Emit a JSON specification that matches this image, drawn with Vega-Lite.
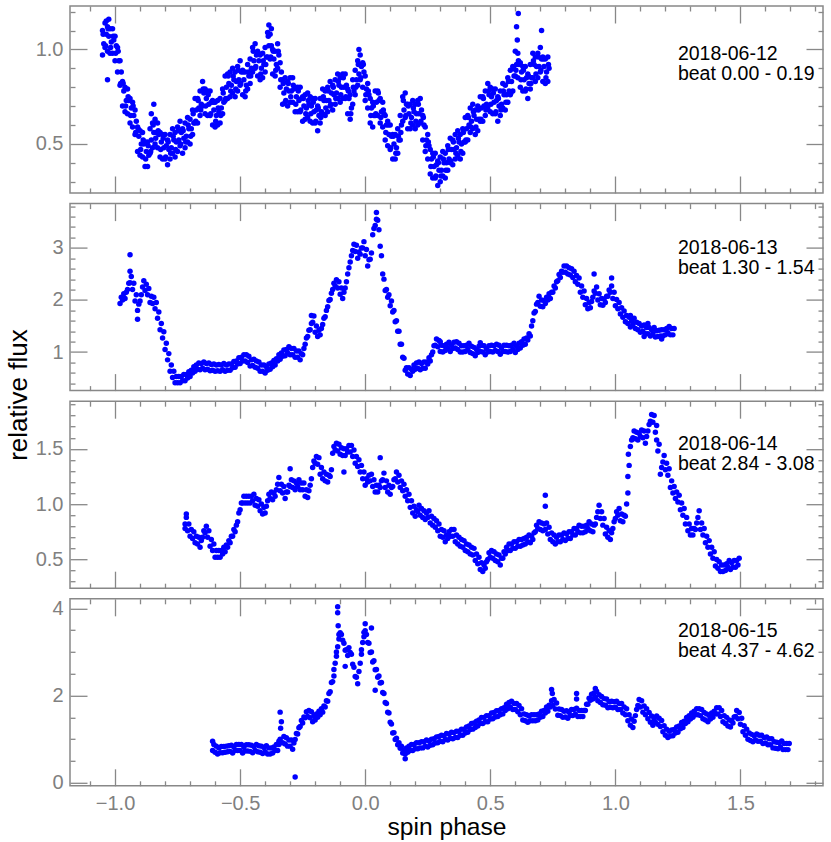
{
  "$schema": "https://vega.github.io/schema/vega-lite/v6.json",
  "padding": {"left": 4, "top": 4, "right": 6, "bottom": 2},
  "spacing": 10.6,
  "bounds": "flush",
  "config": {
    "view": {"stroke": "#888888", "strokeWidth": 1.5},
    "axis": {
      "grid": false,
      "domain": false,
      "tickColor": "#888888",
      "tickWidth": 1.3,
      "labelColor": "#808080",
      "labelFont": "Liberation Sans",
      "labelFontSize": 20,
      "labelOverlap": false,
      "labelFlush": false,
      "titleFont": "Liberation Sans",
      "titleFontSize": 26,
      "titleFontWeight": "normal",
      "titleColor": "#000000"
    },
    "text": {"font": "Liberation Sans"}
  },
  "vconcat": [
    {
      "width": 753,
      "height": 187,
      "layer": [
        {
          "data": {
            "values": "x,y\n-1.05,0.97\n-1.045,1.03\n-1.05,1.10\n-1.04,1.01\n-1.035,1.08\n-1.04,1.14\n-1.03,0.99\n-1.025,1.07\n-1.03,1.12\n-1.02,0.98\n-1.015,1.04\n-1.02,1.11\n-1.01,0.98\n-1.005,1.05\n-1.01,1.11\n-1.00,0.94\n-0.995,1.02\n-1.00,1.07\n-0.99,0.88\n-0.985,0.94\n-0.99,1.01\n-0.98,0.81\n-0.975,0.88\n-0.98,0.94\n-0.97,0.70\n-0.965,0.78\n-0.97,0.83\n-0.96,0.67\n-0.955,0.73\n-0.96,0.80\n-0.95,0.66\n-0.945,0.73\n-0.95,0.79\n-0.94,0.61\n-0.935,0.69\n-0.94,0.74\n-0.93,0.59\n-0.925,0.65\n-0.93,0.72\n-0.92,0.55\n-0.915,0.62\n-0.92,0.68\n-0.91,0.46\n-0.905,0.54\n-0.91,0.59\n-0.90,0.44\n-0.895,0.50\n-0.90,0.57\n-0.89,0.43\n-0.885,0.50\n-0.89,0.56\n-0.88,0.38\n-0.875,0.46\n-0.88,0.51\n-0.87,0.38\n-0.865,0.44\n-0.87,0.51\n-0.86,0.45\n-0.855,0.52\n-0.86,0.58\n-0.85,0.48\n-0.845,0.56\n-0.85,0.61\n-0.84,0.50\n-0.835,0.56\n-0.84,0.63\n-0.83,0.48\n-0.825,0.55\n-0.83,0.61\n-0.82,0.43\n-0.815,0.51\n-0.82,0.56\n-0.81,0.42\n-0.805,0.48\n-0.81,0.55\n-0.80,0.42\n-0.795,0.49\n-0.80,0.55\n-0.79,0.39\n-0.785,0.47\n-0.79,0.52\n-0.78,0.42\n-0.775,0.48\n-0.78,0.55\n-0.77,0.45\n-0.765,0.52\n-0.77,0.58\n-0.76,0.43\n-0.755,0.51\n-0.76,0.56\n-0.75,0.46\n-0.745,0.52\n-0.75,0.59\n-0.74,0.49\n-0.735,0.56\n-0.74,0.62\n-0.73,0.45\n-0.725,0.53\n-0.73,0.58\n-0.72,0.48\n-0.715,0.54\n-0.72,0.61\n-0.71,0.51\n-0.705,0.58\n-0.71,0.64\n-0.70,0.50\n-0.695,0.58\n-0.70,0.63\n-0.69,0.55\n-0.685,0.61\n-0.69,0.68\n-0.68,0.61\n-0.675,0.68\n-0.68,0.74\n-0.67,0.61\n-0.665,0.69\n-0.67,0.74\n-0.66,0.65\n-0.655,0.71\n-0.66,0.78\n-0.65,0.70\n-0.645,0.77\n-0.65,0.83\n-0.64,0.66\n-0.635,0.74\n-0.64,0.79\n-0.63,0.65\n-0.625,0.71\n-0.63,0.78\n-0.62,0.65\n-0.615,0.72\n-0.62,0.78\n-0.61,0.60\n-0.605,0.68\n-0.61,0.73\n-0.60,0.59\n-0.595,0.65\n-0.60,0.72\n-0.59,0.60\n-0.585,0.67\n-0.59,0.73\n-0.58,0.61\n-0.575,0.69\n-0.58,0.74\n-0.57,0.66\n-0.565,0.72\n-0.57,0.79\n-0.56,0.73\n-0.555,0.80\n-0.56,0.86\n-0.55,0.74\n-0.545,0.82\n-0.55,0.87\n-0.54,0.75\n-0.535,0.81\n-0.54,0.88\n-0.53,0.77\n-0.525,0.84\n-0.53,0.90\n-0.52,0.75\n-0.515,0.83\n-0.52,0.88\n-0.51,0.78\n-0.505,0.84\n-0.51,0.91\n-0.50,0.81\n-0.495,0.88\n-0.50,0.94\n-0.49,0.76\n-0.485,0.84\n-0.49,0.89\n-0.48,0.75\n-0.475,0.81\n-0.48,0.88\n-0.47,0.79\n-0.465,0.86\n-0.47,0.92\n-0.46,0.82\n-0.455,0.90\n-0.46,0.95\n-0.45,0.88\n-0.445,0.94\n-0.45,1.01\n-0.44,0.90\n-0.435,0.97\n-0.44,1.03\n-0.43,0.86\n-0.425,0.94\n-0.43,0.99\n-0.42,0.84\n-0.415,0.90\n-0.42,0.97\n-0.41,0.85\n-0.405,0.92\n-0.41,0.98\n-0.40,0.88\n-0.395,0.96\n-0.40,1.01\n-0.39,0.96\n-0.385,1.02\n-0.39,1.09\n-0.38,0.95\n-0.375,1.02\n-0.38,1.08\n-0.37,0.87\n-0.365,0.95\n-0.37,1.00\n-0.36,0.86\n-0.355,0.92\n-0.36,0.99\n-0.35,0.90\n-0.345,0.97\n-0.35,1.03\n-0.34,0.80\n-0.335,0.88\n-0.34,0.93\n-0.33,0.71\n-0.325,0.77\n-0.33,0.84\n-0.32,0.72\n-0.315,0.79\n-0.32,0.85\n-0.31,0.70\n-0.305,0.78\n-0.31,0.83\n-0.30,0.72\n-0.295,0.78\n-0.30,0.85\n-0.29,0.72\n-0.285,0.79\n-0.29,0.85\n-0.28,0.67\n-0.275,0.75\n-0.28,0.80\n-0.27,0.67\n-0.265,0.73\n-0.27,0.80\n-0.26,0.67\n-0.255,0.74\n-0.26,0.80\n-0.25,0.62\n-0.245,0.70\n-0.25,0.75\n-0.24,0.63\n-0.235,0.69\n-0.24,0.76\n-0.23,0.64\n-0.225,0.71\n-0.23,0.77\n-0.22,0.62\n-0.215,0.70\n-0.22,0.75\n-0.21,0.61\n-0.205,0.67\n-0.21,0.74\n-0.20,0.61\n-0.195,0.68\n-0.20,0.74\n-0.19,0.57\n-0.185,0.65\n-0.19,0.70\n-0.18,0.61\n-0.175,0.67\n-0.18,0.74\n-0.17,0.66\n-0.165,0.73\n-0.17,0.79\n-0.16,0.65\n-0.155,0.73\n-0.16,0.78\n-0.15,0.67\n-0.145,0.73\n-0.15,0.80\n-0.14,0.70\n-0.135,0.77\n-0.14,0.83\n-0.13,0.68\n-0.125,0.76\n-0.13,0.81\n-0.12,0.71\n-0.115,0.77\n-0.12,0.84\n-0.11,0.74\n-0.105,0.81\n-0.11,0.87\n-0.10,0.72\n-0.095,0.80\n-0.10,0.85\n-0.09,0.74\n-0.085,0.80\n-0.09,0.87\n-0.08,0.74\n-0.075,0.81\n-0.08,0.87\n-0.07,0.66\n-0.065,0.74\n-0.07,0.79\n-0.06,0.63\n-0.055,0.69\n-0.06,0.76\n-0.05,0.71\n-0.045,0.78\n-0.05,0.84\n-0.04,0.76\n-0.035,0.84\n-0.04,0.89\n-0.03,0.81\n-0.025,0.87\n-0.03,0.94\n-0.02,0.84\n-0.015,0.91\n-0.02,0.97\n-0.01,0.80\n-0.005,0.88\n-0.01,0.93\n0.00,0.73\n0.005,0.79\n0.00,0.86\n0.01,0.69\n0.015,0.76\n0.01,0.82\n0.02,0.61\n0.025,0.69\n0.02,0.74\n0.03,0.59\n0.035,0.65\n0.03,0.72\n0.04,0.65\n0.045,0.72\n0.04,0.78\n0.05,0.65\n0.055,0.73\n0.05,0.78\n0.06,0.61\n0.065,0.67\n0.06,0.74\n0.07,0.59\n0.075,0.66\n0.07,0.72\n0.08,0.52\n0.085,0.60\n0.08,0.65\n0.09,0.49\n0.095,0.55\n0.09,0.62\n0.10,0.47\n0.105,0.54\n0.10,0.60\n0.11,0.42\n0.115,0.50\n0.11,0.55\n0.12,0.42\n0.125,0.48\n0.12,0.55\n0.13,0.45\n0.135,0.52\n0.13,0.58\n0.14,0.52\n0.145,0.60\n0.14,0.65\n0.15,0.62\n0.155,0.68\n0.15,0.75\n0.16,0.64\n0.165,0.71\n0.16,0.77\n0.17,0.58\n0.175,0.66\n0.17,0.71\n0.18,0.58\n0.185,0.64\n0.18,0.71\n0.19,0.60\n0.195,0.67\n0.19,0.73\n0.20,0.58\n0.205,0.66\n0.20,0.71\n0.21,0.60\n0.215,0.66\n0.21,0.73\n0.22,0.61\n0.225,0.68\n0.22,0.74\n0.23,0.52\n0.235,0.60\n0.23,0.65\n0.24,0.46\n0.245,0.52\n0.24,0.59\n0.25,0.42\n0.255,0.49\n0.25,0.55\n0.26,0.34\n0.265,0.42\n0.26,0.47\n0.27,0.32\n0.275,0.38\n0.27,0.45\n0.28,0.32\n0.285,0.39\n0.28,0.45\n0.29,0.28\n0.295,0.36\n0.29,0.41\n0.30,0.30\n0.305,0.36\n0.30,0.43\n0.31,0.33\n0.315,0.40\n0.31,0.46\n0.32,0.32\n0.325,0.40\n0.32,0.45\n0.33,0.36\n0.335,0.42\n0.33,0.49\n0.34,0.40\n0.345,0.47\n0.34,0.53\n0.35,0.39\n0.355,0.47\n0.35,0.52\n0.36,0.42\n0.365,0.48\n0.36,0.55\n0.37,0.44\n0.375,0.51\n0.37,0.57\n0.38,0.42\n0.385,0.50\n0.38,0.55\n0.39,0.45\n0.395,0.51\n0.39,0.58\n0.40,0.51\n0.405,0.58\n0.40,0.64\n0.41,0.52\n0.415,0.60\n0.41,0.65\n0.42,0.56\n0.425,0.62\n0.42,0.69\n0.43,0.58\n0.435,0.65\n0.43,0.71\n0.44,0.55\n0.445,0.63\n0.44,0.68\n0.45,0.57\n0.455,0.63\n0.45,0.70\n0.46,0.62\n0.465,0.69\n0.46,0.75\n0.47,0.62\n0.475,0.70\n0.47,0.75\n0.48,0.65\n0.485,0.71\n0.48,0.78\n0.49,0.69\n0.495,0.76\n0.49,0.82\n0.50,0.67\n0.505,0.75\n0.50,0.80\n0.51,0.66\n0.515,0.72\n0.51,0.79\n0.52,0.66\n0.525,0.73\n0.52,0.79\n0.53,0.62\n0.535,0.70\n0.53,0.75\n0.54,0.65\n0.545,0.71\n0.54,0.78\n0.55,0.69\n0.555,0.76\n0.55,0.82\n0.56,0.68\n0.565,0.76\n0.56,0.81\n0.57,0.72\n0.575,0.78\n0.57,0.85\n0.58,0.76\n0.585,0.83\n0.58,0.89\n0.59,0.78\n0.595,0.86\n0.59,0.91\n0.60,0.86\n0.605,0.92\n0.60,0.99\n0.61,0.85\n0.615,0.92\n0.61,0.98\n0.62,0.80\n0.625,0.88\n0.62,0.93\n0.63,0.78\n0.635,0.84\n0.63,0.91\n0.64,0.78\n0.645,0.85\n0.64,0.91\n0.65,0.74\n0.655,0.82\n0.65,0.87\n0.66,0.79\n0.665,0.85\n0.66,0.92\n0.67,0.85\n0.675,0.92\n0.67,0.98\n0.68,0.83\n0.685,0.91\n0.68,0.96\n0.69,0.85\n0.695,0.91\n0.69,0.98\n0.70,0.88\n0.705,0.95\n0.70,1.01\n0.71,0.83\n0.715,0.91\n0.71,0.96\n0.72,0.82\n0.725,0.88\n0.72,0.95\n0.73,0.83\n0.735,0.90\n0.73,0.96\n-1.035,1.15\n-1.025,1.16\n-1.03,0.84\n-0.845,0.71\n-0.855,0.66\n-0.385,1.13\n-0.375,1.11\n-0.025,1.00\n0.605,1.12\n0.608,1.05\n0.612,1.19\n0.705,1.10\n-1.0475,1.08\n-1.0375,1.02\n-1.0275,1.11\n-1.0175,1.01\n-1.0075,1.07\n-0.9975,0.98\n-0.9875,0.99\n-0.9775,0.82\n-0.9675,0.82\n-0.9575,0.70\n-0.9475,0.75\n-0.9375,0.65\n-0.9275,0.70\n-0.9175,0.56\n-0.9075,0.58\n-0.8975,0.47\n-0.8875,0.52\n-0.8775,0.42\n-0.8675,0.49\n-0.8575,0.46\n-0.8475,0.60\n-0.8375,0.53\n-0.8275,0.57\n-0.8175,0.47\n-0.8075,0.53\n-0.7975,0.43\n-0.7875,0.51\n-0.7775,0.45\n-0.7675,0.54\n-0.7575,0.47\n-0.7475,0.57\n-0.7375,0.50\n-0.7275,0.57\n-0.7175,0.51\n-0.7075,0.60\n-0.6975,0.54\n-0.6875,0.66\n-0.6775,0.62\n-0.6675,0.73\n-0.6575,0.68\n-0.6475,0.79\n-0.6375,0.70\n-0.6275,0.76\n-0.6175,0.66\n-0.6075,0.72\n-0.5975,0.62\n-0.5875,0.69\n-0.5775,0.65\n-0.5675,0.77\n-0.5575,0.74\n-0.5475,0.86\n-0.5375,0.78\n-0.5275,0.86\n-0.5175,0.79\n-0.5075,0.89\n-0.4975,0.82\n-0.4875,0.88\n-0.4775,0.78\n-0.4675,0.88\n-0.4575,0.86\n-0.4475,0.99\n-0.4375,0.91\n-0.4275,0.98\n-0.4175,0.87\n-0.4075,0.94\n-0.3975,0.92\n-0.3875,1.07\n-0.3775,0.96\n-0.3675,0.99\n-0.3575,0.89\n-0.3475,0.99\n-0.3375,0.84\n-0.3275,0.82\n-0.3175,0.73\n-0.3075,0.82\n-0.2975,0.75\n-0.2875,0.81\n-0.2775,0.71\n-0.2675,0.78\n-0.2575,0.68\n-0.2475,0.74\n-0.2375,0.66\n-0.2275,0.73\n-0.2175,0.66\n-0.2075,0.72\n-0.1975,0.62\n-0.1875,0.69\n-0.1775,0.64\n-0.1675,0.75\n-0.1575,0.69\n-0.1475,0.78\n-0.1375,0.71\n-0.1275,0.80\n-0.1175,0.74\n-0.1075,0.83\n-0.0975,0.76\n-0.0875,0.85\n-0.0775,0.75\n-0.0675,0.78\n-0.0575,0.66\n-0.0475,0.80\n-0.0375,0.80\n-0.0275,0.92\n-0.0175,0.85\n-0.0075,0.92\n0.0025,0.76\n0.0125,0.78\n0.0225,0.65\n0.0325,0.70\n0.0425,0.66\n0.0525,0.77\n0.0625,0.64\n0.0725,0.68\n0.0825,0.56\n0.0925,0.60\n0.1025,0.48\n0.1125,0.54\n0.1225,0.45\n0.1325,0.54\n0.1425,0.56\n0.1525,0.73\n0.1625,0.65\n0.1725,0.70\n0.1825,0.61\n0.1925,0.69\n0.2025,0.62\n0.2125,0.71\n0.2225,0.62\n0.2325,0.64\n0.2425,0.49\n0.2525,0.51\n0.2625,0.38\n0.2725,0.43\n0.2825,0.33\n0.2925,0.40\n0.3025,0.33\n0.3125,0.42\n0.3225,0.36\n0.3325,0.47\n0.3425,0.41\n0.3525,0.51\n0.3625,0.45\n0.3725,0.53\n0.3825,0.46\n0.3925,0.56\n0.4025,0.52\n0.4125,0.64\n0.4225,0.59\n0.4325,0.67\n0.4425,0.59\n0.4525,0.68\n0.4625,0.63\n0.4725,0.74\n0.4825,0.68\n0.4925,0.78\n0.5025,0.71\n0.5125,0.77\n0.5225,0.67\n0.5325,0.74\n0.5425,0.68\n0.5525,0.78\n0.5625,0.72\n0.5725,0.83\n0.5825,0.77\n0.5925,0.90\n0.6025,0.89\n0.6125,0.94\n0.6225,0.84\n0.6325,0.89\n0.6425,0.79\n0.6525,0.86\n0.6625,0.82\n0.6725,0.94\n0.6825,0.87\n0.6925,0.96\n0.7025,0.89\n0.7125,0.95\n0.7225,0.85\n0.7325,0.92",
            "format": {"type": "csv", "parse": {"x": "number", "y": "number"}}
          },
          "mark": {"type": "point", "shape": "circle", "filled": true, "size": 30, "color": "#0000ff", "opacity": 1, "strokeWidth": 0},
          "encoding": {
            "x": {"field": "x", "type": "quantitative", "scale": {"domain": [-1.18, 1.83], "nice": false, "zero": false},
              "axis": {"orient": "bottom", "title": null, "labels": false, "values": [-1.1,-1,-0.9,-0.8,-0.7,-0.6,-0.5,-0.4,-0.3,-0.2,-0.1,0,0.1,0.2,0.3,0.4,0.5,0.6,0.7,0.8,0.9,1,1.1,1.2,1.3,1.4,1.5,1.6,1.7,1.8],
                "tickSize": {"condition": {"test": "abs(datum.value*2-round(datum.value*2))<0.001", "value": -17}, "value": -5}}},
            "y": {"field": "y", "type": "quantitative", "scale": {"domain": [0.24, 1.23], "nice": false, "zero": false},
              "axis": {"orient": "left", "title": null, "format": ".1f", "labelPadding": 24, "values": [0.3,0.4,0.5,0.6,0.7,0.8,0.9,1,1.1,1.2],
                "labelExpr": "abs(datum.value*2-round(datum.value*2))<0.001 ? datum.label : ''",
                "labelFontSize": {"condition": {"test": "abs(datum.value*2-round(datum.value*2))<0.001", "value": 20}, "value": 0},
                "tickSize": {"condition": {"test": "abs(datum.value*2-round(datum.value*2))<0.001", "value": -17}, "value": -5}}}
          }
        },
        {
          "data": {"values": [{"x": 1.25, "y": 0.945, "t": "2018-06-12\nbeat 0.00 - 0.19"}]},
          "mark": {"type": "text", "align": "left", "baseline": "alphabetic", "fontSize": 19.5, "lineBreak": "\n", "lineHeight": 20, "color": "#000000"},
          "encoding": {
            "x": {"field": "x", "type": "quantitative", "scale": {"domain": [-1.18, 1.83], "nice": false, "zero": false},
              "axis": {"orient": "top", "title": null, "labels": false, "values": [-1.1,-1,-0.9,-0.8,-0.7,-0.6,-0.5,-0.4,-0.3,-0.2,-0.1,0,0.1,0.2,0.3,0.4,0.5,0.6,0.7,0.8,0.9,1,1.1,1.2,1.3,1.4,1.5,1.6,1.7,1.8],
                "tickSize": {"condition": {"test": "abs(datum.value*2-round(datum.value*2))<0.001", "value": -17}, "value": -5}}},
            "y": {"field": "y", "type": "quantitative", "scale": {"domain": [0.24, 1.23], "nice": false, "zero": false},
              "axis": {"orient": "right", "title": null, "labels": false, "values": [0.3,0.4,0.5,0.6,0.7,0.8,0.9,1,1.1,1.2],
                "tickSize": {"condition": {"test": "abs(datum.value*2-round(datum.value*2))<0.001", "value": -17}, "value": -5}}},
            "text": {"field": "t", "type": "nominal"}
          }
        }
      ],
      "resolve": {"axis": {"x": "independent", "y": "independent"}}
    },
    {
      "width": 753,
      "height": 187,
      "layer": [
        {
          "data": {
            "values": "x,y\n-0.98,1.93\n-0.975,2.05\n-0.97,2.00\n-0.965,2.12\n-0.96,2.03\n-0.955,2.15\n-0.95,2.20\n-0.945,2.32\n-0.94,2.33\n-0.935,2.45\n-0.93,2.20\n-0.925,2.32\n-0.92,1.98\n-0.915,2.10\n-0.91,1.80\n-0.905,1.92\n-0.90,1.98\n-0.895,2.10\n-0.89,2.25\n-0.885,2.37\n-0.88,2.18\n-0.875,2.30\n-0.87,2.10\n-0.865,2.22\n-0.86,1.95\n-0.855,2.07\n-0.85,1.93\n-0.845,2.05\n-0.84,1.83\n-0.835,1.95\n-0.83,1.65\n-0.825,1.77\n-0.82,1.43\n-0.815,1.55\n-0.81,1.27\n-0.805,1.39\n-0.80,1.05\n-0.795,1.17\n-0.79,0.85\n-0.785,0.97\n-0.78,0.63\n-0.775,0.75\n-0.77,0.51\n-0.765,0.63\n-0.76,0.41\n-0.755,0.53\n-0.75,0.41\n-0.745,0.53\n-0.74,0.41\n-0.735,0.53\n-0.73,0.45\n-0.725,0.57\n-0.72,0.45\n-0.715,0.57\n-0.71,0.50\n-0.705,0.62\n-0.70,0.53\n-0.695,0.65\n-0.69,0.60\n-0.685,0.72\n-0.68,0.63\n-0.675,0.75\n-0.67,0.67\n-0.665,0.79\n-0.66,0.66\n-0.655,0.78\n-0.65,0.69\n-0.645,0.81\n-0.64,0.66\n-0.635,0.78\n-0.63,0.67\n-0.625,0.79\n-0.62,0.64\n-0.615,0.76\n-0.61,0.65\n-0.605,0.77\n-0.60,0.63\n-0.595,0.75\n-0.59,0.64\n-0.585,0.76\n-0.58,0.63\n-0.575,0.75\n-0.57,0.66\n-0.565,0.78\n-0.56,0.63\n-0.555,0.75\n-0.55,0.65\n-0.545,0.77\n-0.54,0.65\n-0.535,0.77\n-0.53,0.70\n-0.525,0.82\n-0.52,0.71\n-0.515,0.83\n-0.51,0.77\n-0.505,0.89\n-0.50,0.78\n-0.495,0.90\n-0.49,0.83\n-0.485,0.95\n-0.48,0.83\n-0.475,0.95\n-0.47,0.80\n-0.465,0.92\n-0.46,0.73\n-0.455,0.85\n-0.45,0.74\n-0.445,0.86\n-0.44,0.71\n-0.435,0.83\n-0.43,0.69\n-0.425,0.81\n-0.42,0.63\n-0.415,0.75\n-0.41,0.63\n-0.405,0.75\n-0.40,0.60\n-0.395,0.72\n-0.39,0.65\n-0.385,0.77\n-0.38,0.67\n-0.375,0.79\n-0.37,0.72\n-0.365,0.84\n-0.36,0.75\n-0.355,0.87\n-0.35,0.83\n-0.345,0.95\n-0.34,0.86\n-0.335,0.98\n-0.33,0.92\n-0.325,1.04\n-0.32,0.93\n-0.315,1.05\n-0.31,0.98\n-0.305,1.10\n-0.30,0.95\n-0.295,1.07\n-0.29,0.95\n-0.285,1.07\n-0.28,0.90\n-0.275,1.02\n-0.27,0.90\n-0.265,1.02\n-0.26,0.85\n-0.255,0.97\n-0.25,0.95\n-0.245,1.07\n-0.24,1.15\n-0.235,1.27\n-0.23,1.30\n-0.225,1.42\n-0.22,1.43\n-0.215,1.55\n-0.21,1.57\n-0.205,1.69\n-0.20,1.38\n-0.195,1.50\n-0.19,1.30\n-0.185,1.42\n-0.18,1.33\n-0.175,1.45\n-0.17,1.53\n-0.165,1.65\n-0.16,1.68\n-0.155,1.80\n-0.15,1.87\n-0.145,1.99\n-0.14,2.01\n-0.135,2.13\n-0.13,2.20\n-0.125,2.32\n-0.12,2.27\n-0.115,2.39\n-0.11,2.23\n-0.105,2.35\n-0.10,2.11\n-0.095,2.23\n-0.09,2.03\n-0.085,2.15\n-0.08,2.23\n-0.075,2.35\n-0.07,2.50\n-0.065,2.62\n-0.06,2.73\n-0.055,2.85\n-0.05,2.95\n-0.045,3.07\n-0.04,2.93\n-0.035,3.05\n-0.03,2.80\n-0.025,2.92\n-0.02,2.88\n-0.015,3.00\n-0.01,3.00\n-0.005,3.12\n0.00,2.85\n0.005,2.97\n0.01,2.65\n0.015,2.77\n0.02,2.78\n0.025,2.90\n0.03,3.25\n0.035,3.37\n0.04,3.43\n0.045,3.55\n0.05,3.53\n0.055,3.35\n0.06,3.03\n0.065,2.85\n0.07,2.50\n0.075,2.40\n0.08,2.18\n0.085,2.20\n0.09,2.05\n0.095,2.10\n0.10,1.89\n0.105,1.98\n0.11,1.77\n0.115,1.80\n0.12,1.58\n0.125,1.60\n0.13,1.40\n0.135,1.40\n0.14,1.15\n0.145,1.15\n0.15,0.90\n0.155,0.88\n0.16,0.65\n0.165,0.70\n0.17,0.58\n0.175,0.70\n0.18,0.55\n0.185,0.67\n0.19,0.63\n0.195,0.75\n0.20,0.67\n0.205,0.79\n0.21,0.69\n0.215,0.81\n0.22,0.66\n0.225,0.78\n0.23,0.69\n0.235,0.81\n0.24,0.69\n0.245,0.81\n0.25,0.77\n0.255,0.89\n0.26,0.83\n0.265,0.95\n0.27,1.00\n0.275,1.12\n0.28,1.13\n0.285,1.25\n0.29,1.10\n0.295,1.22\n0.30,1.01\n0.305,1.13\n0.31,1.00\n0.315,1.12\n0.32,1.03\n0.325,1.15\n0.33,1.07\n0.335,1.19\n0.34,1.01\n0.345,1.13\n0.35,1.07\n0.355,1.19\n0.36,1.08\n0.365,1.20\n0.37,1.05\n0.375,1.17\n0.38,1.00\n0.385,1.12\n0.39,1.00\n0.395,1.12\n0.40,1.01\n0.405,1.13\n0.41,1.05\n0.415,1.17\n0.42,0.99\n0.425,1.11\n0.43,0.97\n0.435,1.09\n0.44,0.93\n0.445,1.05\n0.45,0.99\n0.455,1.11\n0.46,1.01\n0.465,1.13\n0.47,1.00\n0.475,1.12\n0.48,0.95\n0.485,1.07\n0.49,1.00\n0.495,1.12\n0.50,1.01\n0.505,1.13\n0.51,1.00\n0.515,1.12\n0.52,1.03\n0.525,1.15\n0.53,1.01\n0.535,1.13\n0.54,0.96\n0.545,1.08\n0.55,1.01\n0.555,1.13\n0.56,1.01\n0.565,1.13\n0.57,1.00\n0.575,1.12\n0.58,1.01\n0.585,1.13\n0.59,1.05\n0.595,1.17\n0.60,0.99\n0.605,1.11\n0.61,1.05\n0.615,1.17\n0.62,1.08\n0.625,1.20\n0.63,1.13\n0.635,1.25\n0.64,1.15\n0.645,1.27\n0.65,1.23\n0.655,1.35\n0.66,1.31\n0.665,1.50\n0.67,1.60\n0.675,1.75\n0.68,1.78\n0.685,1.92\n0.69,1.95\n0.695,2.07\n0.70,1.88\n0.705,2.00\n0.71,1.87\n0.715,1.99\n0.72,1.93\n0.725,2.05\n0.73,2.00\n0.735,2.12\n0.74,2.03\n0.745,2.15\n0.75,2.15\n0.755,2.27\n0.76,2.23\n0.765,2.35\n0.77,2.37\n0.775,2.49\n0.78,2.43\n0.785,2.55\n0.79,2.53\n0.795,2.65\n0.80,2.53\n0.805,2.65\n0.81,2.50\n0.815,2.62\n0.82,2.48\n0.825,2.60\n0.83,2.43\n0.835,2.55\n0.84,2.35\n0.845,2.47\n0.85,2.30\n0.855,2.42\n0.86,2.15\n0.865,2.27\n0.87,2.05\n0.875,2.17\n0.88,1.91\n0.885,2.03\n0.89,1.83\n0.895,1.95\n0.90,1.85\n0.905,1.97\n0.91,2.05\n0.915,2.17\n0.92,2.13\n0.925,2.25\n0.93,2.00\n0.935,2.12\n0.94,1.91\n0.945,2.03\n0.95,1.90\n0.955,2.02\n0.96,1.95\n0.965,2.07\n0.97,2.07\n0.975,2.19\n0.98,2.15\n0.985,2.27\n0.99,2.03\n0.995,2.15\n1.00,1.89\n1.005,2.01\n1.01,1.83\n1.015,1.95\n1.02,1.73\n1.025,1.85\n1.03,1.67\n1.035,1.79\n1.04,1.58\n1.045,1.70\n1.05,1.55\n1.055,1.67\n1.06,1.48\n1.065,1.60\n1.07,1.53\n1.075,1.65\n1.08,1.45\n1.085,1.57\n1.09,1.43\n1.095,1.55\n1.10,1.38\n1.105,1.50\n1.11,1.40\n1.115,1.52\n1.12,1.35\n1.125,1.47\n1.13,1.35\n1.135,1.47\n1.14,1.31\n1.145,1.43\n1.15,1.35\n1.155,1.47\n1.16,1.29\n1.165,1.41\n1.17,1.30\n1.175,1.42\n1.18,1.31\n1.185,1.43\n1.19,1.31\n1.195,1.43\n1.20,1.33\n1.205,1.45\n1.21,1.37\n1.215,1.49\n1.22,1.33\n1.225,1.45\n1.23,1.33\n1.235,1.45\n-0.94,2.87\n-0.94,2.55\n-0.91,1.63\n-0.215,1.70\n0.045,3.68\n0.915,2.50\n0.985,2.42\n1.115,1.30\n1.185,1.25\n1.13,1.55\n1.06,1.70\n0.30,1.20\n0.46,1.18",
            "format": {"type": "csv", "parse": {"x": "number", "y": "number"}}
          },
          "mark": {"type": "point", "shape": "circle", "filled": true, "size": 30, "color": "#0000ff", "opacity": 1, "strokeWidth": 0},
          "encoding": {
            "x": {"field": "x", "type": "quantitative", "scale": {"domain": [-1.18, 1.83], "nice": false, "zero": false},
              "axis": {"orient": "bottom", "title": null, "labels": false, "values": [-1.1,-1,-0.9,-0.8,-0.7,-0.6,-0.5,-0.4,-0.3,-0.2,-0.1,0,0.1,0.2,0.3,0.4,0.5,0.6,0.7,0.8,0.9,1,1.1,1.2,1.3,1.4,1.5,1.6,1.7,1.8],
                "tickSize": {"condition": {"test": "abs(datum.value*2-round(datum.value*2))<0.001", "value": -17}, "value": -5}}},
            "y": {"field": "y", "type": "quantitative", "scale": {"domain": [0.26, 3.85], "nice": false, "zero": false},
              "axis": {"orient": "left", "title": "relative flux", "titleX": -44, "titleY": 191, "titleAngle": -90, "titleAlign": "center", "titleBaseline": "alphabetic",
                "format": ".0f", "labelPadding": 24, "values": [0.4,0.6,0.8,1,1.2,1.4,1.6,1.8,2,2.2,2.4,2.6,2.8,3,3.2,3.4,3.6,3.8],
                "labelExpr": "abs(datum.value-round(datum.value))<0.001 ? datum.label : ''",
                "labelFontSize": {"condition": {"test": "abs(datum.value-round(datum.value))<0.001", "value": 20}, "value": 0},
                "tickSize": {"condition": {"test": "abs(datum.value-round(datum.value))<0.001", "value": -17}, "value": -5}}}
          }
        },
        {
          "data": {"values": [{"x": 1.25, "y": 2.88, "t": "2018-06-13\nbeat 1.30 - 1.54"}]},
          "mark": {"type": "text", "align": "left", "baseline": "alphabetic", "fontSize": 19.5, "lineBreak": "\n", "lineHeight": 20, "color": "#000000"},
          "encoding": {
            "x": {"field": "x", "type": "quantitative", "scale": {"domain": [-1.18, 1.83], "nice": false, "zero": false},
              "axis": {"orient": "top", "title": null, "labels": false, "values": [-1.1,-1,-0.9,-0.8,-0.7,-0.6,-0.5,-0.4,-0.3,-0.2,-0.1,0,0.1,0.2,0.3,0.4,0.5,0.6,0.7,0.8,0.9,1,1.1,1.2,1.3,1.4,1.5,1.6,1.7,1.8],
                "tickSize": {"condition": {"test": "abs(datum.value*2-round(datum.value*2))<0.001", "value": -17}, "value": -5}}},
            "y": {"field": "y", "type": "quantitative", "scale": {"domain": [0.26, 3.85], "nice": false, "zero": false},
              "axis": {"orient": "right", "title": null, "labels": false, "values": [0.4,0.6,0.8,1,1.2,1.4,1.6,1.8,2,2.2,2.4,2.6,2.8,3,3.2,3.4,3.6,3.8],
                "tickSize": {"condition": {"test": "abs(datum.value-round(datum.value))<0.001", "value": -17}, "value": -5}}},
            "text": {"field": "t", "type": "nominal"}
          }
        }
      ],
      "resolve": {"axis": {"x": "independent", "y": "independent"}}
    },
    {
      "width": 753,
      "height": 187,
      "layer": [
        {
          "data": {
            "values": "x,y\n-0.72,0.82\n-0.715,0.88\n-0.71,0.76\n-0.705,0.82\n-0.70,0.71\n-0.695,0.77\n-0.69,0.69\n-0.685,0.75\n-0.68,0.65\n-0.675,0.71\n-0.67,0.64\n-0.665,0.70\n-0.66,0.61\n-0.655,0.67\n-0.65,0.70\n-0.645,0.76\n-0.64,0.74\n-0.635,0.80\n-0.63,0.70\n-0.625,0.76\n-0.62,0.62\n-0.615,0.68\n-0.61,0.58\n-0.605,0.64\n-0.60,0.52\n-0.595,0.58\n-0.59,0.52\n-0.585,0.58\n-0.58,0.52\n-0.575,0.58\n-0.57,0.55\n-0.565,0.61\n-0.56,0.57\n-0.555,0.63\n-0.55,0.61\n-0.545,0.67\n-0.54,0.65\n-0.535,0.71\n-0.53,0.71\n-0.525,0.77\n-0.52,0.75\n-0.515,0.81\n-0.51,0.84\n-0.505,0.92\n-0.50,0.95\n-0.495,1.01\n-0.49,1.01\n-0.485,1.07\n-0.48,1.01\n-0.475,1.07\n-0.47,1.01\n-0.465,1.07\n-0.46,1.01\n-0.455,1.07\n-0.45,1.03\n-0.445,1.09\n-0.44,0.99\n-0.435,1.05\n-0.43,0.98\n-0.425,1.04\n-0.42,0.94\n-0.415,1.00\n-0.41,0.91\n-0.405,0.97\n-0.40,0.92\n-0.395,0.98\n-0.39,1.03\n-0.385,1.09\n-0.38,1.05\n-0.375,1.11\n-0.37,1.04\n-0.365,1.10\n-0.36,1.07\n-0.355,1.13\n-0.35,1.18\n-0.345,1.24\n-0.34,1.12\n-0.335,1.18\n-0.33,1.10\n-0.325,1.16\n-0.32,1.05\n-0.315,1.11\n-0.31,1.11\n-0.305,1.17\n-0.30,1.16\n-0.295,1.22\n-0.29,1.15\n-0.285,1.21\n-0.28,1.13\n-0.275,1.19\n-0.27,1.16\n-0.265,1.22\n-0.26,1.13\n-0.255,1.19\n-0.25,1.13\n-0.245,1.19\n-0.24,1.07\n-0.235,1.13\n-0.23,1.06\n-0.225,1.12\n-0.22,1.17\n-0.215,1.23\n-0.21,1.33\n-0.205,1.39\n-0.20,1.37\n-0.195,1.43\n-0.19,1.36\n-0.185,1.42\n-0.18,1.27\n-0.175,1.33\n-0.17,1.23\n-0.165,1.29\n-0.16,1.21\n-0.155,1.27\n-0.15,1.20\n-0.145,1.26\n-0.14,1.25\n-0.135,1.31\n-0.13,1.46\n-0.125,1.52\n-0.12,1.49\n-0.115,1.55\n-0.11,1.48\n-0.105,1.54\n-0.10,1.45\n-0.095,1.51\n-0.09,1.44\n-0.085,1.50\n-0.08,1.44\n-0.075,1.50\n-0.07,1.47\n-0.065,1.53\n-0.06,1.47\n-0.055,1.53\n-0.05,1.43\n-0.045,1.49\n-0.04,1.37\n-0.035,1.43\n-0.03,1.34\n-0.025,1.40\n-0.02,1.29\n-0.015,1.35\n-0.01,1.23\n-0.005,1.29\n0.00,1.17\n0.005,1.23\n0.01,1.20\n0.015,1.26\n0.02,1.21\n0.025,1.27\n0.03,1.16\n0.035,1.22\n0.04,1.11\n0.045,1.17\n0.05,1.11\n0.055,1.17\n0.06,1.15\n0.065,1.21\n0.07,1.22\n0.075,1.28\n0.08,1.15\n0.085,1.21\n0.09,1.11\n0.095,1.17\n0.10,1.09\n0.105,1.15\n0.11,1.16\n0.115,1.22\n0.12,1.23\n0.125,1.29\n0.13,1.20\n0.135,1.26\n0.14,1.15\n0.145,1.21\n0.15,1.12\n0.155,1.18\n0.16,1.07\n0.165,1.13\n0.17,1.03\n0.175,1.09\n0.18,0.97\n0.185,1.03\n0.19,0.92\n0.195,0.98\n0.20,0.89\n0.205,0.95\n0.21,0.93\n0.215,0.99\n0.22,0.90\n0.225,0.96\n0.23,0.88\n0.235,0.94\n0.24,0.86\n0.245,0.92\n0.25,0.88\n0.255,0.94\n0.26,0.83\n0.265,0.89\n0.27,0.81\n0.275,0.87\n0.28,0.79\n0.285,0.85\n0.29,0.76\n0.295,0.82\n0.30,0.71\n0.305,0.77\n0.31,0.70\n0.315,0.76\n0.32,0.66\n0.325,0.72\n0.33,0.69\n0.335,0.75\n0.34,0.71\n0.345,0.77\n0.35,0.71\n0.355,0.77\n0.36,0.66\n0.365,0.72\n0.37,0.64\n0.375,0.70\n0.38,0.62\n0.385,0.68\n0.39,0.61\n0.395,0.67\n0.40,0.58\n0.405,0.64\n0.41,0.57\n0.415,0.63\n0.42,0.55\n0.425,0.61\n0.43,0.54\n0.435,0.60\n0.44,0.49\n0.445,0.55\n0.45,0.46\n0.455,0.52\n0.46,0.41\n0.465,0.47\n0.47,0.39\n0.475,0.45\n0.48,0.42\n0.485,0.48\n0.49,0.50\n0.495,0.56\n0.50,0.52\n0.505,0.58\n0.51,0.51\n0.515,0.57\n0.52,0.49\n0.525,0.55\n0.53,0.48\n0.535,0.54\n0.54,0.45\n0.545,0.51\n0.55,0.51\n0.555,0.57\n0.56,0.55\n0.565,0.61\n0.57,0.58\n0.575,0.64\n0.58,0.58\n0.585,0.64\n0.59,0.60\n0.595,0.66\n0.60,0.60\n0.605,0.66\n0.61,0.62\n0.615,0.68\n0.62,0.62\n0.625,0.68\n0.63,0.63\n0.635,0.69\n0.64,0.64\n0.645,0.70\n0.65,0.66\n0.655,0.72\n0.66,0.65\n0.665,0.71\n0.67,0.68\n0.675,0.74\n0.68,0.75\n0.685,0.81\n0.69,0.78\n0.695,0.84\n0.70,0.77\n0.705,0.83\n0.71,0.76\n0.715,0.82\n0.72,0.77\n0.725,0.83\n0.73,0.73\n0.735,0.79\n0.74,0.68\n0.745,0.74\n0.75,0.66\n0.755,0.72\n0.76,0.64\n0.765,0.70\n0.77,0.66\n0.775,0.72\n0.78,0.66\n0.785,0.72\n0.79,0.68\n0.795,0.74\n0.80,0.67\n0.805,0.73\n0.81,0.69\n0.815,0.75\n0.82,0.69\n0.825,0.75\n0.83,0.72\n0.835,0.78\n0.84,0.72\n0.845,0.78\n0.85,0.75\n0.855,0.81\n0.86,0.74\n0.865,0.80\n0.87,0.74\n0.875,0.80\n0.88,0.75\n0.885,0.81\n0.89,0.78\n0.895,0.84\n0.90,0.76\n0.905,0.82\n0.91,0.75\n0.915,0.81\n0.92,0.82\n0.925,0.88\n0.93,0.93\n0.935,0.99\n0.94,0.87\n0.945,0.93\n0.95,0.81\n0.955,0.87\n0.96,0.73\n0.965,0.79\n0.97,0.70\n0.975,0.76\n0.98,0.68\n0.985,0.74\n0.99,0.78\n0.995,0.84\n1.00,0.87\n1.005,0.93\n1.01,0.90\n1.015,0.96\n1.02,0.85\n1.025,0.91\n1.03,0.84\n1.035,0.90\n1.04,0.89\n1.045,1.00\n1.05,1.10\n1.055,1.35\n1.06,1.52\n1.065,1.58\n1.07,1.60\n1.075,1.66\n1.08,1.59\n1.085,1.65\n1.09,1.58\n1.095,1.64\n1.10,1.61\n1.105,1.67\n1.11,1.60\n1.115,1.66\n1.12,1.55\n1.125,1.61\n1.13,1.66\n1.135,1.72\n1.14,1.75\n1.145,1.81\n1.15,1.74\n1.155,1.80\n1.16,1.65\n1.165,1.71\n1.17,1.48\n1.175,1.54\n1.18,1.27\n1.185,1.33\n1.19,1.38\n1.195,1.44\n1.20,1.31\n1.205,1.37\n1.21,1.26\n1.215,1.32\n1.22,1.15\n1.225,1.21\n1.23,1.10\n1.235,1.16\n1.24,1.05\n1.245,1.11\n1.25,1.02\n1.255,1.08\n1.26,0.95\n1.265,1.01\n1.27,0.90\n1.275,0.96\n1.28,0.82\n1.285,0.88\n1.29,0.76\n1.295,0.82\n1.30,0.72\n1.305,0.78\n1.31,0.72\n1.315,0.78\n1.32,0.77\n1.325,0.83\n1.33,0.88\n1.335,0.94\n1.34,0.77\n1.345,0.83\n1.35,0.72\n1.355,0.78\n1.36,0.65\n1.365,0.71\n1.37,0.61\n1.375,0.67\n1.38,0.55\n1.385,0.61\n1.39,0.51\n1.395,0.57\n1.40,0.44\n1.405,0.50\n1.41,0.42\n1.415,0.48\n1.42,0.39\n1.425,0.45\n1.43,0.39\n1.435,0.45\n1.44,0.40\n1.445,0.46\n1.45,0.43\n1.455,0.49\n1.46,0.41\n1.465,0.47\n1.47,0.43\n1.475,0.49\n1.48,0.43\n1.485,0.49\n1.49,0.45\n1.495,0.51\n-0.72,0.78\n-0.715,0.91\n-0.30,1.32\n0.72,1.08\n0.72,0.98\n1.05,1.25\n1.052,1.45\n1.165,1.58\n0.06,1.42\n-0.085,1.29",
            "format": {"type": "csv", "parse": {"x": "number", "y": "number"}}
          },
          "mark": {"type": "point", "shape": "circle", "filled": true, "size": 30, "color": "#0000ff", "opacity": 1, "strokeWidth": 0},
          "encoding": {
            "x": {"field": "x", "type": "quantitative", "scale": {"domain": [-1.18, 1.83], "nice": false, "zero": false},
              "axis": {"orient": "bottom", "title": null, "labels": false, "values": [-1.1,-1,-0.9,-0.8,-0.7,-0.6,-0.5,-0.4,-0.3,-0.2,-0.1,0,0.1,0.2,0.3,0.4,0.5,0.6,0.7,0.8,0.9,1,1.1,1.2,1.3,1.4,1.5,1.6,1.7,1.8],
                "tickSize": {"condition": {"test": "abs(datum.value*2-round(datum.value*2))<0.001", "value": -17}, "value": -5}}},
            "y": {"field": "y", "type": "quantitative", "scale": {"domain": [0.24, 1.93], "nice": false, "zero": false},
              "axis": {"orient": "left", "title": null, "format": ".1f", "labelPadding": 24, "values": [0.3,0.4,0.5,0.6,0.7,0.8,0.9,1,1.1,1.2,1.3,1.4,1.5,1.6,1.7,1.8,1.9],
                "labelExpr": "abs(datum.value*2-round(datum.value*2))<0.001 ? datum.label : ''",
                "labelFontSize": {"condition": {"test": "abs(datum.value*2-round(datum.value*2))<0.001", "value": 20}, "value": 0},
                "tickSize": {"condition": {"test": "abs(datum.value*2-round(datum.value*2))<0.001", "value": -17}, "value": -5}}}
          }
        },
        {
          "data": {"values": [{"x": 1.25, "y": 1.488, "t": "2018-06-14\nbeat 2.84 - 3.08"}]},
          "mark": {"type": "text", "align": "left", "baseline": "alphabetic", "fontSize": 19.5, "lineBreak": "\n", "lineHeight": 20, "color": "#000000"},
          "encoding": {
            "x": {"field": "x", "type": "quantitative", "scale": {"domain": [-1.18, 1.83], "nice": false, "zero": false},
              "axis": {"orient": "top", "title": null, "labels": false, "values": [-1.1,-1,-0.9,-0.8,-0.7,-0.6,-0.5,-0.4,-0.3,-0.2,-0.1,0,0.1,0.2,0.3,0.4,0.5,0.6,0.7,0.8,0.9,1,1.1,1.2,1.3,1.4,1.5,1.6,1.7,1.8],
                "tickSize": {"condition": {"test": "abs(datum.value*2-round(datum.value*2))<0.001", "value": -17}, "value": -5}}},
            "y": {"field": "y", "type": "quantitative", "scale": {"domain": [0.24, 1.93], "nice": false, "zero": false},
              "axis": {"orient": "right", "title": null, "labels": false, "values": [0.3,0.4,0.5,0.6,0.7,0.8,0.9,1,1.1,1.2,1.3,1.4,1.5,1.6,1.7,1.8,1.9],
                "tickSize": {"condition": {"test": "abs(datum.value*2-round(datum.value*2))<0.001", "value": -17}, "value": -5}}},
            "text": {"field": "t", "type": "nominal"}
          }
        }
      ],
      "resolve": {"axis": {"x": "independent", "y": "independent"}}
    },
    {
      "width": 753,
      "height": 187,
      "layer": [
        {
          "data": {
            "values": "x,y\n-0.61,0.74\n-0.605,0.88\n-0.60,0.70\n-0.595,0.84\n-0.59,0.66\n-0.585,0.80\n-0.58,0.69\n-0.575,0.83\n-0.57,0.69\n-0.565,0.83\n-0.56,0.70\n-0.555,0.84\n-0.55,0.71\n-0.545,0.85\n-0.54,0.72\n-0.535,0.86\n-0.53,0.68\n-0.525,0.82\n-0.52,0.74\n-0.515,0.88\n-0.51,0.74\n-0.505,0.88\n-0.50,0.74\n-0.495,0.88\n-0.49,0.68\n-0.485,0.82\n-0.48,0.73\n-0.475,0.87\n-0.47,0.73\n-0.465,0.87\n-0.46,0.72\n-0.455,0.86\n-0.45,0.69\n-0.445,0.83\n-0.44,0.74\n-0.435,0.88\n-0.43,0.71\n-0.425,0.85\n-0.42,0.70\n-0.415,0.84\n-0.41,0.67\n-0.405,0.81\n-0.40,0.71\n-0.395,0.85\n-0.39,0.66\n-0.385,0.80\n-0.38,0.66\n-0.375,0.80\n-0.37,0.68\n-0.365,0.82\n-0.36,0.74\n-0.355,0.88\n-0.35,0.74\n-0.345,0.88\n-0.34,1.00\n-0.335,1.40\n-0.33,0.92\n-0.325,1.06\n-0.32,0.89\n-0.315,1.03\n-0.31,0.84\n-0.305,0.98\n-0.30,0.84\n-0.295,0.98\n-0.29,0.77\n-0.285,0.91\n-0.28,0.99\n-0.275,1.13\n-0.27,1.12\n-0.265,1.26\n-0.26,1.29\n-0.255,1.43\n-0.25,1.37\n-0.245,1.51\n-0.24,1.49\n-0.235,1.63\n-0.23,1.52\n-0.225,1.66\n-0.22,1.49\n-0.215,1.63\n-0.21,1.40\n-0.205,1.54\n-0.20,1.44\n-0.195,1.58\n-0.19,1.50\n-0.185,1.64\n-0.18,1.56\n-0.175,1.70\n-0.17,1.62\n-0.165,1.76\n-0.16,1.74\n-0.155,1.88\n-0.15,1.87\n-0.145,2.05\n-0.14,2.09\n-0.135,2.30\n-0.13,2.32\n-0.125,2.60\n-0.12,2.74\n-0.115,3.00\n-0.11,3.12\n-0.105,3.40\n-0.10,3.44\n-0.095,3.40\n-0.09,3.27\n-0.085,3.20\n-0.08,3.04\n-0.075,3.05\n-0.07,2.92\n-0.065,3.10\n-0.06,2.99\n-0.055,2.95\n-0.05,2.72\n-0.045,2.65\n-0.04,2.44\n-0.035,2.42\n-0.03,2.27\n-0.025,2.55\n-0.02,2.74\n-0.015,3.05\n-0.01,3.22\n-0.005,3.45\n0.00,3.49\n0.005,3.40\n0.01,3.22\n0.015,3.20\n0.02,2.99\n0.025,3.00\n0.03,2.77\n0.035,2.80\n0.04,2.59\n0.045,2.60\n0.05,2.42\n0.055,2.45\n0.06,2.29\n0.065,2.30\n0.07,2.07\n0.075,2.05\n0.08,1.84\n0.085,1.82\n0.09,1.62\n0.095,1.60\n0.10,1.39\n0.105,1.35\n0.11,1.14\n0.115,1.15\n0.12,0.99\n0.125,1.02\n0.13,0.87\n0.135,0.92\n0.14,0.79\n0.145,0.84\n0.15,0.68\n0.155,0.74\n0.16,0.66\n0.165,0.80\n0.17,0.70\n0.175,0.84\n0.18,0.74\n0.185,0.88\n0.19,0.74\n0.195,0.88\n0.20,0.78\n0.205,0.92\n0.21,0.78\n0.215,0.92\n0.22,0.80\n0.225,0.94\n0.23,0.80\n0.235,0.94\n0.24,0.84\n0.245,0.98\n0.25,0.82\n0.255,0.96\n0.26,0.86\n0.265,1.00\n0.27,0.87\n0.275,1.01\n0.28,0.91\n0.285,1.05\n0.29,0.92\n0.295,1.06\n0.30,0.95\n0.305,1.09\n0.31,0.94\n0.315,1.08\n0.32,0.99\n0.325,1.13\n0.33,0.98\n0.335,1.12\n0.34,1.02\n0.345,1.16\n0.35,1.01\n0.355,1.15\n0.36,1.04\n0.365,1.18\n0.37,1.04\n0.375,1.18\n0.38,1.09\n0.385,1.23\n0.39,1.09\n0.395,1.23\n0.40,1.14\n0.405,1.28\n0.41,1.16\n0.415,1.30\n0.42,1.22\n0.425,1.36\n0.43,1.23\n0.435,1.37\n0.44,1.27\n0.445,1.41\n0.45,1.30\n0.455,1.44\n0.46,1.36\n0.465,1.50\n0.47,1.36\n0.475,1.50\n0.48,1.40\n0.485,1.54\n0.49,1.40\n0.495,1.54\n0.50,1.46\n0.505,1.60\n0.51,1.47\n0.515,1.61\n0.52,1.51\n0.525,1.65\n0.53,1.52\n0.535,1.66\n0.54,1.56\n0.545,1.70\n0.55,1.58\n0.555,1.72\n0.56,1.66\n0.565,1.80\n0.57,1.70\n0.575,1.84\n0.58,1.73\n0.585,1.87\n0.59,1.68\n0.595,1.82\n0.60,1.68\n0.605,1.82\n0.61,1.63\n0.615,1.77\n0.62,1.56\n0.625,1.70\n0.63,1.44\n0.635,1.58\n0.64,1.42\n0.645,1.56\n0.65,1.39\n0.655,1.53\n0.66,1.42\n0.665,1.56\n0.67,1.42\n0.675,1.56\n0.68,1.42\n0.685,1.56\n0.69,1.44\n0.695,1.58\n0.70,1.50\n0.705,1.64\n0.71,1.52\n0.715,1.66\n0.72,1.60\n0.725,1.74\n0.73,1.64\n0.735,1.78\n0.74,1.74\n0.745,1.88\n0.75,1.77\n0.755,1.91\n0.76,1.69\n0.765,1.83\n0.77,1.55\n0.775,1.69\n0.78,1.54\n0.785,1.68\n0.79,1.50\n0.795,1.64\n0.80,1.51\n0.805,1.65\n0.81,1.48\n0.815,1.62\n0.82,1.54\n0.825,1.68\n0.83,1.54\n0.835,1.68\n0.84,1.57\n0.845,1.71\n0.85,1.52\n0.855,1.66\n0.86,1.52\n0.865,1.66\n0.87,1.52\n0.875,1.66\n0.88,1.66\n0.885,1.80\n0.89,1.80\n0.895,1.94\n0.90,1.89\n0.905,2.03\n0.91,1.92\n0.915,2.06\n0.92,1.96\n0.925,2.10\n0.93,1.88\n0.935,2.02\n0.94,1.84\n0.945,1.98\n0.95,1.79\n0.955,1.93\n0.96,1.78\n0.965,1.92\n0.97,1.72\n0.975,1.86\n0.98,1.73\n0.985,1.87\n0.99,1.72\n0.995,1.86\n1.00,1.73\n1.005,1.87\n1.01,1.68\n1.015,1.82\n1.02,1.68\n1.025,1.82\n1.03,1.60\n1.035,1.74\n1.04,1.56\n1.045,1.70\n1.05,1.42\n1.055,1.56\n1.06,1.32\n1.065,1.46\n1.07,1.27\n1.075,1.41\n1.08,1.54\n1.085,1.68\n1.09,1.77\n1.095,1.91\n1.10,1.74\n1.105,1.88\n1.11,1.62\n1.115,1.76\n1.12,1.56\n1.125,1.70\n1.13,1.47\n1.135,1.61\n1.14,1.39\n1.145,1.53\n1.15,1.32\n1.155,1.46\n1.16,1.39\n1.165,1.53\n1.17,1.34\n1.175,1.48\n1.18,1.29\n1.185,1.43\n1.19,1.17\n1.195,1.31\n1.20,1.09\n1.205,1.23\n1.21,1.04\n1.215,1.18\n1.22,1.07\n1.225,1.21\n1.23,1.08\n1.235,1.22\n1.24,1.14\n1.245,1.28\n1.25,1.16\n1.255,1.30\n1.26,1.24\n1.265,1.38\n1.27,1.27\n1.275,1.41\n1.28,1.36\n1.285,1.50\n1.29,1.40\n1.295,1.54\n1.30,1.46\n1.305,1.60\n1.31,1.50\n1.315,1.64\n1.32,1.56\n1.325,1.70\n1.33,1.56\n1.335,1.70\n1.34,1.54\n1.345,1.68\n1.35,1.47\n1.355,1.61\n1.36,1.44\n1.365,1.58\n1.37,1.40\n1.375,1.54\n1.38,1.46\n1.385,1.60\n1.39,1.50\n1.395,1.64\n1.40,1.58\n1.405,1.72\n1.41,1.58\n1.415,1.72\n1.42,1.52\n1.425,1.66\n1.43,1.40\n1.435,1.54\n1.44,1.36\n1.445,1.50\n1.45,1.30\n1.455,1.44\n1.46,1.28\n1.465,1.42\n1.47,1.37\n1.475,1.51\n1.48,1.52\n1.485,1.66\n1.49,1.47\n1.495,1.61\n1.50,1.34\n1.505,1.48\n1.51,1.17\n1.515,1.31\n1.52,1.09\n1.525,1.23\n1.53,1.00\n1.535,1.14\n1.54,0.97\n1.545,1.11\n1.55,0.94\n1.555,1.08\n1.56,0.98\n1.565,1.12\n1.57,0.95\n1.575,1.09\n1.58,0.95\n1.585,1.09\n1.59,0.90\n1.595,1.04\n1.60,0.91\n1.605,1.05\n1.61,0.87\n1.615,1.01\n1.62,0.87\n1.625,1.01\n1.63,0.80\n1.635,0.94\n1.64,0.79\n1.645,0.93\n1.65,0.78\n1.655,0.92\n1.66,0.82\n1.665,0.96\n1.67,0.76\n1.675,0.90\n1.68,0.76\n1.685,0.90\n1.69,0.76\n1.695,0.90\n-0.61,0.95\n-0.345,0.95\n-0.34,1.62\n-0.338,1.25\n-0.28,0.13\n-0.11,4.04\n-0.11,3.90\n-0.108,3.60\n-0.08,2.67\n0.00,3.65\n0.025,3.55\n0.04,2.12\n0.16,0.55\n0.745,2.14\n0.748,2.05\n0.845,2.05\n0.845,1.92\n0.92,2.16\n-0.125,2.45\n-0.115,2.90\n-0.105,3.30\n-0.015,2.95\n-0.005,3.35",
            "format": {"type": "csv", "parse": {"x": "number", "y": "number"}}
          },
          "mark": {"type": "point", "shape": "circle", "filled": true, "size": 30, "color": "#0000ff", "opacity": 1, "strokeWidth": 0},
          "encoding": {
            "x": {"field": "x", "type": "quantitative", "scale": {"domain": [-1.18, 1.83], "nice": false, "zero": false},
              "axis": {"orient": "bottom", "title": "spin phase", "titleY": 49, "titleBaseline": "alphabetic", "titleFontSize": 24.6, "format": ".1f", "labelPadding": 25,
                "values": [-1.1,-1,-0.9,-0.8,-0.7,-0.6,-0.5,-0.4,-0.3,-0.2,-0.1,0,0.1,0.2,0.3,0.4,0.5,0.6,0.7,0.8,0.9,1,1.1,1.2,1.3,1.4,1.5,1.6,1.7,1.8],
                "labelExpr": "abs(datum.value*2-round(datum.value*2))<0.001 ? datum.label : ''",
                "labelFontSize": {"condition": {"test": "abs(datum.value*2-round(datum.value*2))<0.001", "value": 20}, "value": 0},
                "tickSize": {"condition": {"test": "abs(datum.value*2-round(datum.value*2))<0.001", "value": -17}, "value": -5}}},
            "y": {"field": "y", "type": "quantitative", "scale": {"domain": [-0.07, 4.22], "nice": false, "zero": false},
              "axis": {"orient": "left", "title": null, "format": ".0f", "labelPadding": 24, "values": [0,0.5,1,1.5,2,2.5,3,3.5,4],
                "labelExpr": "abs(datum.value/2-round(datum.value/2))<0.001 ? datum.label : ''",
                "labelFontSize": {"condition": {"test": "abs(datum.value/2-round(datum.value/2))<0.001", "value": 20}, "value": 0},
                "tickSize": {"condition": {"test": "abs(datum.value/2-round(datum.value/2))<0.001", "value": -17}, "value": -5}}}
          }
        },
        {
          "data": {"values": [{"x": 1.25, "y": 3.35, "t": "2018-06-15\nbeat 4.37 - 4.62"}]},
          "mark": {"type": "text", "align": "left", "baseline": "alphabetic", "fontSize": 19.5, "lineBreak": "\n", "lineHeight": 20, "color": "#000000"},
          "encoding": {
            "x": {"field": "x", "type": "quantitative", "scale": {"domain": [-1.18, 1.83], "nice": false, "zero": false},
              "axis": {"orient": "top", "title": null, "labels": false, "values": [-1.1,-1,-0.9,-0.8,-0.7,-0.6,-0.5,-0.4,-0.3,-0.2,-0.1,0,0.1,0.2,0.3,0.4,0.5,0.6,0.7,0.8,0.9,1,1.1,1.2,1.3,1.4,1.5,1.6,1.7,1.8],
                "tickSize": {"condition": {"test": "abs(datum.value*2-round(datum.value*2))<0.001", "value": -17}, "value": -5}}},
            "y": {"field": "y", "type": "quantitative", "scale": {"domain": [-0.07, 4.22], "nice": false, "zero": false},
              "axis": {"orient": "right", "title": null, "labels": false, "values": [0,0.5,1,1.5,2,2.5,3,3.5,4],
                "tickSize": {"condition": {"test": "abs(datum.value/2-round(datum.value/2))<0.001", "value": -17}, "value": -5}}},
            "text": {"field": "t", "type": "nominal"}
          }
        }
      ],
      "resolve": {"axis": {"x": "independent", "y": "independent"}}
    }
  ]
}
